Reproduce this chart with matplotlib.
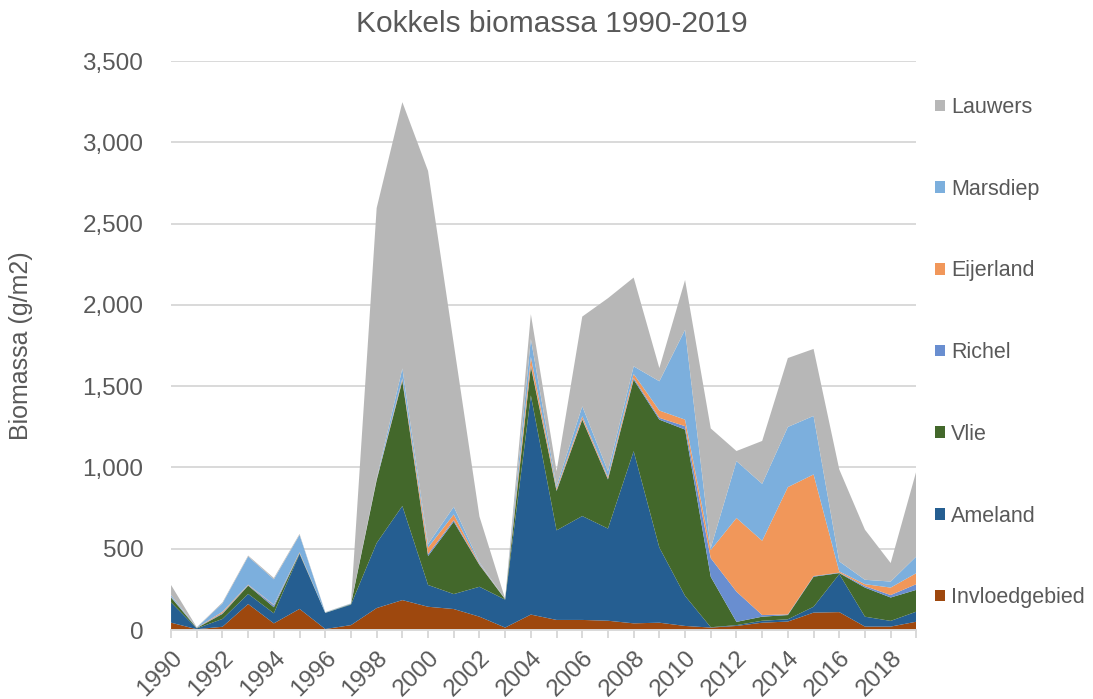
import matplotlib
matplotlib.use('Agg')
from matplotlib import pyplot as plt
from matplotlib.ticker import FuncFormatter, MultipleLocator

years = list(range(1990, 2020))

invloedgebied = [45, 5, 20, 160, 41, 130, 6, 30, 135, 184,
                 143, 129, 82, 15, 95, 62, 62, 57, 41, 45,
                 25, 15, 25, 45, 52, 107, 110, 21, 21, 51]
ameland = [125, 5, 48, 62, 62, 338, 99, 126, 400, 579,
           134, 92, 184, 172, 1348, 551, 639, 567, 1059, 462,
           185, 2, 5, 12, 14, 36, 234, 61, 35, 62]
vlie = [30, 2, 31, 51, 37, 4, 1, 3, 387, 770,
        178, 445, 134, 2, 177, 242, 593, 302, 440, 787,
        1023, 310, 20, 25, 26, 185, 6, 179, 144, 134]
richel = [3, 1, 5, 3, 12, 2, 0, 0, 2, 5,
          12, 10, 3, 0, 10, 5, 5, 5, 10, 11,
          21, 115, 186, 10, 4, 4, 3, 9, 15, 35]
eijerland = [2, 1, 8, 3, 3, 4, 0, 0, 3, 10,
             40, 35, 5, 0, 50, 10, 16, 10, 25, 45,
             40, 50, 453, 457, 783, 625, 7, 12, 46, 68]
marsdiep = [10, 1, 52, 173, 157, 107, 2, 3, 5, 61,
            22, 47, 7, 1, 110, 15, 61, 36, 47, 180,
            553, 12, 350, 350, 370, 360, 62, 27, 37, 103]
lauwers = [62, 2, 6, 6, 8, 6, 2, 2, 1664, 1638,
           2295, 1002, 283, 2, 153, 92, 552, 1064, 546, 81,
           306, 736, 62, 264, 424, 412, 566, 308, 114, 525]

names = ['Invloedgebied', 'Ameland', 'Vlie', 'Richel', 'Eijerland', 'Marsdiep', 'Lauwers']
colors = ['#9E480E', '#255E91', '#43682B', '#698ED0', '#F1975A', '#7CAFDD', '#B7B7B7']

TEXT = '#595959'
GRID = '#D9D9D9'


def build_chart():
    '''
    Draw the stacked area chart and save it
    '''
    plt.rcParams['font.family'] = ['Liberation Sans', 'DejaVu Sans']
    fig = plt.figure(figsize=(10.93, 6.99), dpi=100)
    ax = fig.add_axes([0.1565, 0.0987, 0.6819, 0.814])

    series = [invloedgebied, ameland, vlie, richel, eijerland, marsdiep, lauwers]
    polys = ax.stackplot(years, series, colors=colors, labels=names, linewidth=0)

    ax.set_xlim(1990, 2019)
    ax.set_ylim(0, 3500)
    ax.yaxis.set_major_locator(MultipleLocator(500))
    ax.yaxis.set_major_formatter(FuncFormatter(lambda v, p: '{:,.0f}'.format(v)))
    ax.grid(axis='y', color=GRID, linewidth=1.4)
    ax.set_axisbelow(True)

    for side in ['top', 'right', 'left']:
        ax.spines[side].set_visible(False)
    ax.spines['bottom'].set_color(GRID)
    ax.spines['bottom'].set_linewidth(1.4)
    ax.spines['bottom'].set_zorder(5)

    ax.set_xticks(years)
    ax.set_xticklabels([str(y) if y % 2 == 0 else '' for y in years],
                       rotation=45, ha='right', va='top', rotation_mode='anchor')
    ax.tick_params(axis='x', length=6, width=1.4, color=GRID, labelsize=17.5,
                   labelcolor=TEXT, pad=6)
    ax.tick_params(axis='y', length=0, labelsize=17.5, labelcolor=TEXT, pad=20)

    ax.set_ylabel('Biomassa (g/m2)', fontsize=18, color=TEXT)
    ax.yaxis.set_label_coords(-0.185, 0.5)

    fig.text(0.505, 0.966, 'Kokkels biomassa 1990-2019', fontsize=21.5,
             color=TEXT, ha='center', va='center')

    leg = fig.legend(polys[::-1], names[::-1], loc='upper left',
                     bbox_to_anchor=(935 / 1093, 1 - 97 / 699), frameon=False,
                     fontsize=15.5, labelspacing=2.82, handlelength=0.45,
                     handleheight=0.45, handletextpad=0.3, borderpad=0,
                     borderaxespad=0)
    for text in leg.get_texts():
        text.set_color(TEXT)

    fig.savefig('out.png', dpi=100)


if __name__ == '__main__':
    build_chart()
